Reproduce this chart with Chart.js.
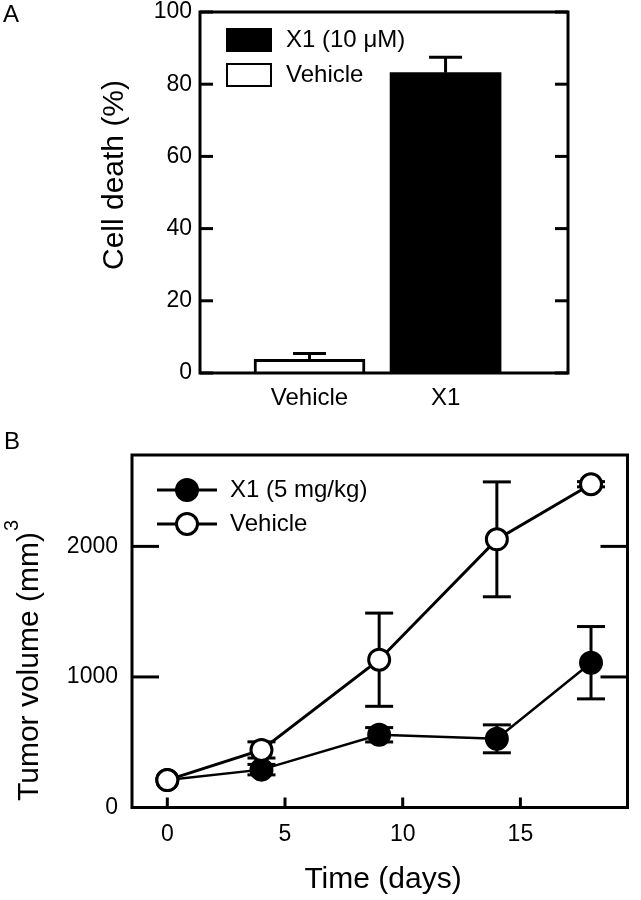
<!DOCTYPE html>
<html>
<head>
<meta charset="utf-8">
<script src="https://cdn.jsdelivr.net/npm/chart.js@4.4.0/dist/chart.umd.min.js"></script>
<style>
  html, body { margin: 0; padding: 0; background: #fff; }
  .panel { position: absolute; left: 0; width: 641px; }
  #panelA { top: 0; height: 420px; }
  #panelB { top: 420px; height: 480px; }
</style>
</head>
<body>
<div class="panel" id="panelA"><canvas id="cellDeath"></canvas></div>
<div class="panel" id="panelB"><canvas id="tumorVolume"></canvas></div>
<script>
const FONT = "'Liberation Sans', Arial, Helvetica, sans-serif";

// panel A - cell death
const groups = ['Vehicle', 'X1'];
const groupPos = [1, 2];
const cellDeath = [3.8, 83.2];
const cellDeathErr = [1.6, 4.3];
const cellDeathTicks = [0, 20, 40, 60, 80, 100];

// panel B - tumor volume
const days = [0, 4, 9, 14, 18];
const x1Volume = [210, 290, 557, 526, 1109];
const x1Err = [0, 40, 55, 107, 277];
const vehicleVolume = [210, 441, 1132, 2054, 2476];
const vehicleErr = [0, 62, 357, 440, 20];
const dayTicks = [0, 5, 10, 15];
const volumeTicks = [0, 1000, 2000];

function drawLine(ctx, x1, y1, x2, y2) {
    ctx.beginPath();
    ctx.moveTo(x1, y1);
    ctx.lineTo(x2, y2);
    ctx.stroke();
}

function drawText(ctx, str, x, y, size, align, rot) {
    ctx.save();
    ctx.translate(x, y);
    if (rot) ctx.rotate(rot);
    ctx.font = size + 'px ' + FONT;
    ctx.fillStyle = '#000';
    ctx.textAlign = align || 'center';
    ctx.textBaseline = 'middle';
    ctx.fillText(str, 0, 0);
    ctx.restore();
}

// box round the plot with inward ticks
const framePlugin = {
    id: 'frame',
    afterDraw(chart, args, opts) {
        const { ctx, chartArea: a, scales } = chart;
        ctx.save();
        ctx.strokeStyle = '#000';
        ctx.lineWidth = 3;
        ctx.strokeRect(a.left, a.top, a.right - a.left, a.bottom - a.top);
        opts.yTicks.forEach(v => {
            const y = scales.y.getPixelForValue(v);
            drawLine(ctx, a.left, y, a.left + opts.yLen, y);
            drawLine(ctx, a.right, y, a.right - opts.yLen, y);
        });
        (opts.xTicks || []).forEach(v => {
            const x = scales.x.getPixelForValue(v);
            drawLine(ctx, x, a.bottom, x, a.bottom - opts.xLen);
        });
        ctx.restore();
    }
};

// error bars, drawn from the scales
function errorBars(chart, sets, cap, upOnly) {
    const { ctx, scales } = chart;
    ctx.save();
    ctx.strokeStyle = '#000';
    ctx.lineWidth = 3;
    sets.forEach(s => {
        s.x.forEach((xv, i) => {
            if (!s.err[i]) return;
            const x = scales.x.getPixelForValue(xv);
            const yTop = scales.y.getPixelForValue(s.y[i] + s.err[i]);
            const yBot = scales.y.getPixelForValue(upOnly ? s.y[i] : s.y[i] - s.err[i]);
            drawLine(ctx, x, yTop, x, yBot);
            drawLine(ctx, x - cap / 2, yTop, x + cap / 2, yTop);
            if (!upOnly) drawLine(ctx, x - cap / 2, yBot, x + cap / 2, yBot);
        });
    });
    ctx.restore();
}

// ---------- A ----------
const decorA = {
    id: 'decorA',
    afterDatasetsDraw(chart) {
        errorBars(chart, [{ x: groupPos, y: cellDeath, err: cellDeathErr }], 33, true);
    },
    afterDraw(chart) {
        const { ctx, chartArea: a } = chart;
        drawText(ctx, 'A', 3, 15, 24, 'left');
        drawText(ctx, 'Cell death (%)', 115, 175, 30, 'center', -Math.PI / 2);
        // legend
        const items = [chart.data.datasets[1], chart.data.datasets[0]];
        ctx.save();
        items.forEach((ds, i) => {
            const top = a.top + 16 + i * 35;
            ctx.fillStyle = ds.backgroundColor;
            ctx.fillRect(a.left + 26, top, 46, 24);
            ctx.strokeStyle = '#000';
            ctx.lineWidth = 2;
            ctx.strokeRect(a.left + 27, top + 1, 44, 22);
            drawText(ctx, ds.label, a.left + 86, top + 12, 24, 'left');
        });
        ctx.restore();
    }
};

new Chart(document.getElementById('cellDeath'), {
    type: 'bar',
    data: {
        datasets: [
            {
                label: 'Vehicle',
                data: [{ x: groupPos[0], y: cellDeath[0] }],
                backgroundColor: '#fff',
                borderColor: '#000',
                borderWidth: 3
            },
            {
                label: 'X1 (10 μM)',
                data: [{ x: groupPos[1], y: cellDeath[1] }],
                backgroundColor: '#000',
                borderColor: '#000',
                borderWidth: 0
            }
        ]
    },
    options: {
        responsive: true,
        maintainAspectRatio: false,
        animation: false,
        devicePixelRatio: 1,
        grouped: false,
        barThickness: 111,
        layout: { padding: { left: 0, top: 12, right: 73, bottom: 0 } },
        plugins: {
            legend: { display: false },
            tooltip: { enabled: false },
            frame: { yTicks: cellDeathTicks, yLen: 13 }
        },
        scales: {
            x: {
                type: 'linear',
                min: 0.195,
                max: 2.9,
                offset: false,
                afterBuildTicks: s => { s.ticks = groupPos.map(v => ({ value: v })); },
                afterFit: s => { s.height = 47; s.paddingLeft = 0; s.paddingRight = 0; },
                ticks: {
                    callback: v => groups[groupPos.indexOf(v)],
                    font: { family: FONT, size: 24 },
                    color: '#000',
                    padding: 11,
                    maxRotation: 0,
                    autoSkip: false
                },
                grid: { display: false, drawTicks: false },
                border: { display: false }
            },
            y: {
                min: 0,
                max: 100,
                afterBuildTicks: s => { s.ticks = cellDeathTicks.map(v => ({ value: v })); },
                afterFit: s => { s.width = 200; s.paddingTop = 0; s.paddingBottom = 0; },
                ticks: { callback: v => String(v), font: { family: FONT, size: 23 }, color: '#000', padding: 8 },
                grid: { display: false, drawTicks: false },
                border: { display: false }
            }
        }
    },
    plugins: [framePlugin, decorA]
});

// ---------- B ----------
const decorB = {
    id: 'decorB',
    beforeDatasetsDraw(chart) {
        errorBars(chart, [
            { x: days, y: x1Volume, err: x1Err },
            { x: days, y: vehicleVolume, err: vehicleErr }
        ], 28, false);
    },
    afterDraw(chart) {
        const { ctx, chartArea: a } = chart;
        drawText(ctx, 'B', 4, 22, 24, 'left');
        drawText(ctx, 'Time (days)', 383, 460, 30, 'center');
        // y title with superscript
        ctx.save();
        ctx.translate(30, 381);
        ctx.rotate(-Math.PI / 2);
        ctx.fillStyle = '#000';
        ctx.textBaseline = 'middle';
        ctx.textAlign = 'left';
        ctx.font = '30px ' + FONT;
        const main = 'Tumor volume (mm)';
        ctx.fillText(main, 0, 0);
        const w = ctx.measureText(main).width;
        ctx.font = '20px ' + FONT;
        ctx.fillText('3', w + 1, -18);
        ctx.restore();
        // legend
        ctx.save();
        chart.data.datasets.forEach((ds, i) => {
            const y = a.top + 35 + i * 34;
            ctx.strokeStyle = '#000';
            ctx.lineWidth = 3;
            drawLine(ctx, a.left + 25, y, a.left + 85, y);
            ctx.beginPath();
            ctx.arc(a.left + 55, y, ds.pointRadius, 0, Math.PI * 2);
            ctx.fillStyle = ds.pointBackgroundColor;
            ctx.fill();
            ctx.lineWidth = ds.pointBorderWidth;
            ctx.stroke();
            drawText(ctx, ds.label, a.left + 98, y, 24, 'left');
        });
        ctx.restore();
    }
};

new Chart(document.getElementById('tumorVolume'), {
    type: 'line',
    data: {
        datasets: [
            {
                label: 'X1 (5 mg/kg)',
                data: days.map((d, i) => ({ x: d, y: x1Volume[i] })),
                borderColor: '#000',
                borderWidth: 2.5,
                pointBackgroundColor: '#000',
                pointBorderColor: '#000',
                pointBorderWidth: 3,
                pointRadius: 10.5,
                order: 1
            },
            {
                label: 'Vehicle',
                data: days.map((d, i) => ({ x: d, y: vehicleVolume[i] })),
                borderColor: '#000',
                borderWidth: 3,
                pointBackgroundColor: '#fff',
                pointBorderColor: '#000',
                pointBorderWidth: 3,
                pointRadius: 10.5,
                order: 0
            }
        ]
    },
    options: {
        responsive: true,
        maintainAspectRatio: false,
        animation: false,
        devicePixelRatio: 1,
        layout: { padding: { left: 0, top: 35, right: 6, bottom: 0 } },
        plugins: {
            legend: { display: false },
            tooltip: { enabled: false },
            frame: { yTicks: volumeTicks, yLen: 27, xTicks: dayTicks, xLen: 10 }
        },
        scales: {
            x: {
                type: 'linear',
                min: -1.5,
                max: 19.55,
                afterBuildTicks: s => { s.ticks = dayTicks.map(v => ({ value: v })); },
                afterFit: s => { s.height = 92.5; s.paddingLeft = 0; s.paddingRight = 0; },
                ticks: { callback: v => String(v), font: { family: FONT, size: 23 }, color: '#000', padding: 13, maxRotation: 0 },
                grid: { display: false, drawTicks: false },
                border: { display: false }
            },
            y: {
                min: 0,
                max: 2700,
                afterBuildTicks: s => { s.ticks = volumeTicks.map(v => ({ value: v })); },
                afterFit: s => { s.width = 132; s.paddingTop = 0; s.paddingBottom = 0; },
                ticks: { callback: v => String(v), font: { family: FONT, size: 23 }, color: '#000', padding: 14 },
                grid: { display: false, drawTicks: false },
                border: { display: false }
            }
        }
    },
    plugins: [framePlugin, decorB]
});
</script>
</body>
</html>
